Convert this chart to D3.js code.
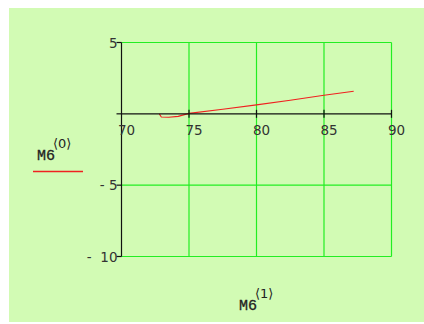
<!DOCTYPE html>
<html>
<head>
<meta charset="utf-8">
<script src="https://cdn.jsdelivr.net/npm/d3@7"></script>
<style>
  html, body { margin: 0; padding: 0; background: #fff; }
  svg { display: block; }
</style>
</head>
<body>
<svg id="chart" width="424" height="324"></svg>
<script>
// M6 matrix columns: column 1 on the horizontal axis, column 0 on the vertical axis
const m6col1 = [72.8, 72.95, 73.5, 74.2, 75.0, 77.5, 80.0, 82.5, 85.0, 87.2];
const m6col0 = [0.0, -0.22, -0.24, -0.18, 0.03, 0.32, 0.63, 0.95, 1.30, 1.58];

const xTicks = [70, 75, 80, 85, 90];
const xTickLabels = ["70", "75", "80", "85", "90"];
const yTicks = [5, 0, -5, -10];
const yTickLabels = ["5", "", "- 5", "-  10"];

const svg = d3.select("#chart");

// light green panel
svg.append("rect")
  .attr("x", 9).attr("y", 8)
  .attr("width", 415).attr("height", 314)
  .attr("fill", "#d2fbb4");

const x = d3.scaleLinear().domain([70, 90]).range([121.5, 391.5]);
const y = d3.scaleLinear().domain([5, -10]).range([42.5, 256.5]);

const grid = svg.append("g").attr("stroke", "#22ee22").attr("stroke-width", 1.2).attr("fill", "none");
// vertical grid lines
grid.selectAll("line.v").data(xTicks.filter(d => d !== 70)).enter().append("line")
  .attr("x1", d => x(d)).attr("x2", d => x(d))
  .attr("y1", y(5)).attr("y2", y(-10));
// horizontal grid lines
grid.selectAll("line.h").data(yTicks.filter(d => d !== 0)).enter().append("line")
  .attr("x1", x(70)).attr("x2", x(90))
  .attr("y1", d => y(d)).attr("y2", d => y(d));

// data trace
const line = d3.line().x(d => x(d[0])).y(d => y(d[1]));
svg.append("path")
  .datum(m6col1.map((v, i) => [v, m6col0[i]]))
  .attr("d", line)
  .attr("fill", "none")
  .attr("stroke", "#f02020")
  .attr("stroke-width", 1.1);

// axes: x crosses at 0, y at 70
const axes = svg.append("g").attr("stroke", "#111").attr("stroke-width", 1.2);
axes.append("line").attr("x1", x(70)).attr("x2", x(90)).attr("y1", y(0)).attr("y2", y(0));
axes.append("line").attr("x1", x(70)).attr("x2", x(70)).attr("y1", y(5)).attr("y2", y(-10));
axes.selectAll("line.xt").data(xTicks.filter(d => d !== 70)).enter().append("line")
  .attr("x1", d => x(d)).attr("x2", d => x(d))
  .attr("y1", y(0) - 4).attr("y2", y(0) + 4);
axes.selectAll("line.yt").data(yTicks).enter().append("line")
  .attr("x1", x(70) - 5).attr("x2", x(70))
  .attr("y1", d => y(d)).attr("y2", d => y(d));

const labelFont = "'DejaVu Sans', Verdana, sans-serif";
svg.selectAll("text.xl").data(xTicks).enter().append("text")
  .attr("x", d => x(d) + 5)
  .attr("y", y(0) + 21)
  .attr("text-anchor", "middle")
  .attr("font-family", labelFont)
  .attr("font-size", 13.5)
  .attr("fill", "#333")
  .text((d, i) => xTickLabels[i]);

svg.selectAll("text.yl").data(yTicks).enter().append("text")
  .attr("x", x(70) - 4)
  .attr("y", d => y(d) + 5)
  .attr("text-anchor", "end")
  .attr("font-family", labelFont)
  .attr("font-size", 13.5)
  .attr("fill", "#333")
  .attr("xml:space", "preserve")
  .style("white-space", "pre")
  .text((d, i) => yTickLabels[i]);

// axis titles
function title(xp, yp, sup) {
  const g = svg.append("g");
  g.append("text")
    .attr("x", xp).attr("y", yp)
    .attr("font-family", "'Liberation Mono', 'Courier New', monospace")
    .attr("font-size", 15)
    .attr("fill", "#222")
    .attr("stroke", "#222")
    .attr("stroke-width", 0.3)
    .text("M6");
  g.append("text")
    .attr("x", xp + 16).attr("y", yp - 12)
    .attr("font-family", "'DejaVu Sans', sans-serif")
    .attr("font-size", 13)
    .attr("fill", "#222")
    .text(sup);
}
title(37, 160, "⟨0⟩");
title(239, 310, "⟨1⟩");

// legend swatch for the trace
svg.append("line")
  .attr("x1", 33).attr("x2", 83).attr("y1", 171.5).attr("y2", 171.5)
  .attr("stroke", "#f02020").attr("stroke-width", 1.5);
</script>
</body>
</html>
